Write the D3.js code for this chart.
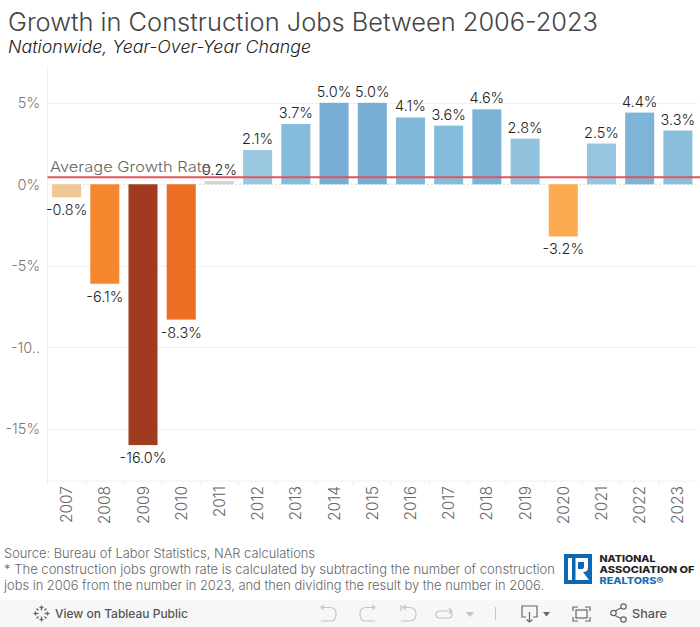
<!DOCTYPE html>
<html><head><meta charset="utf-8">
<script src="https://cdn.jsdelivr.net/npm/d3@7/dist/d3.min.js"></script>
<style>html,body{margin:0;padding:0;background:#fff;overflow:hidden}svg{display:block}text{font-family:"Inter","DejaVu Sans",sans-serif;font-weight:300}</style>
</head><body><svg id="c" width="700" height="627"></svg>
<script>
const years=["2007","2008","2009","2010","2011","2012","2013","2014","2015","2016","2017","2018","2019","2020","2021","2022","2023"];
const growth=[-0.8,-6.1,-16.0,-8.3,0.2,2.1,3.7,5.0,5.0,4.1,3.6,4.6,2.8,-3.2,2.5,4.4,3.3];
const yTickValues=[5,0,-5,-10,-15];
const yTickLabels=["5%","0%","-5%","-10..","-15%"];
const averageGrowth=0.43;
const titleText="Growth in Construction Jobs Between 2006-2023";
const subtitleText="Nationwide, Year-Over-Year Change";
const avgLabel="Average Growth Rate";
const notes=["Source: Bureau of Labor Statistics, NAR calculations",
"* The construction jobs growth rate is calculated by subtracting the number of construction",
"jobs in 2006 from the number in 2023, and then dividing the result by the number in 2006."];

const svg=d3.select("#c");
const L=47.5,R=697,T=66,B=481;
const x=d3.scaleBand().domain(years).range([L,R]).paddingInner(0.24).paddingOuter(0.12);
const step=x.step();
const y=d3.scaleLinear().domain([0,-15]).range([184.3,428.8]);
const color=d3.scaleLinear().domain([-16,-8.3,-6.1,-3.2,-0.8,0.2,2.1,3.7,5])
 .range(["#a03b20","#ec6e22","#f5882e","#fdab50","#f0c896","#d6d6cc","#9ac8e1","#85bbdb","#78aed3"]);

function fit(sel,w){sel.attr("textLength",w).attr("lengthAdjust","spacingAndGlyphs");return sel}

fit(svg.append("text").attr("x",8).attr("y",31).attr("font-size",25).attr("fill","#444").text(titleText),590);
fit(svg.append("text").attr("x",8).attr("y",53).attr("font-size",17).attr("font-style","italic").attr("fill","#222").text(subtitleText),303);

// grid
const gridG=svg.append("g");
gridG.selectAll("line").data(yTickValues.filter(d=>d!==0)).join("line")
 .attr("x1",L).attr("x2",697).attr("y1",d=>Math.round(y(d))+.5).attr("y2",d=>Math.round(y(d))+.5)
 .attr("stroke","#f0f0f0");
svg.append("line").attr("x1",L).attr("x2",L).attr("y1",T).attr("y2",B).attr("stroke","#f0f0f0");
svg.append("line").attr("x1",L).attr("x2",697).attr("y1",B).attr("y2",B).attr("stroke","#f0f0f0");
// zero dotted
svg.append("line").attr("x1",L).attr("x2",697).attr("y1",y(0)).attr("y2",y(0))
 .attr("stroke","#b5b5b5").attr("stroke-dasharray","1 3");
// y labels
svg.append("g").selectAll("text").data(yTickValues).join("text")
 .attr("x",40).attr("y",d=>y(d)+5.5).attr("text-anchor","end").attr("font-size",14.5).attr("fill","#777")
 .text((d,i)=>yTickLabels[i]);
// x ticks
svg.append("g").selectAll("line").data(years).join("line")
 .attr("x1",d=>x(d)-(step-x.bandwidth())/2).attr("x2",d=>x(d)-(step-x.bandwidth())/2)
 .attr("y1",B).attr("y2",B+4).attr("stroke","#eee");
svg.append("g").selectAll("text").data(years).join("text")
 .attr("transform",d=>`translate(${x(d)+x.bandwidth()/2+5.5},${B+5}) rotate(-90)`)
 .attr("text-anchor","end").attr("font-size",15.5).attr("fill","#666").text(d=>d);
// bars
svg.append("g").selectAll("rect").data(growth).join("rect")
 .attr("x",(d,i)=>x(years[i])).attr("width",x.bandwidth())
 .attr("y",d=>d>=0?y(d):y(0)).attr("height",d=>Math.abs(y(d)-y(0)))
 .attr("fill",d=>color(d));
// labels
svg.append("g").selectAll("text").data(growth).join("text")
 .attr("x",(d,i)=>x(years[i])+x.bandwidth()/2)
 .attr("y",d=>d>=0?y(d)-6:y(d)+18)
 .attr("text-anchor","middle").attr("font-size",14.5).attr("fill","#222")
 .text(d=>d.toFixed(1)+"%");
// average
fit(svg.append("text").attr("x",50).attr("y",172).attr("font-size",14.5).attr("fill","#666").text(avgLabel),161);
svg.append("line").attr("x1",L).attr("x2",700).attr("y1",y(averageGrowth)).attr("y2",y(averageGrowth))
 .attr("stroke","#e0545c").attr("stroke-width",2);
// notes
const noteW=[311,551,540];
svg.append("g").selectAll("text").data(notes).join("text")
 .attr("x",4).attr("y",(d,i)=>558+i*16).attr("font-size",13).attr("fill","#666").text(d=>d)
 .each(function(d,i){fit(d3.select(this),noteW[i])});
// logo
const lg=svg.append("g").attr("transform","translate(564,554)");
lg.append("rect").attr("width",28).attr("height",30).attr("fill","#0d68b1");
lg.append("path").attr("fill","#fff").attr("d","M4 4H24V14Q24 18 19 18L25 26H4Z");
lg.append("rect").attr("x",8).attr("y",4).attr("width",3.5).attr("height",22).attr("fill","#0d68b1");
lg.append("path").attr("fill","#0d68b1").attr("d","M14 8H20V13Q20 15 17 15H14Z");
[["NATIONAL","#222",8,56],["ASSOCIATION OF","#222",19,95],["REALTORS®","#1a6cb0",30,64]].forEach(r=>{
 fit(lg.append("text").attr("x",35.5).attr("y",r[2]).attr("font-size",9).style("font-weight",800).attr("fill",r[1]).text(r[0]),r[3]);
});
// toolbar
const tb=svg.append("g");
tb.append("rect").attr("x",0).attr("y",600).attr("width",700).attr("height",27).attr("fill","#f7f7f7");
const tIcon="#666",tLight="#c4c4c4";
const star=tb.append("g").attr("transform","translate(41.5,613.5)").attr("stroke",tIcon).attr("stroke-width",1.3);
[[0,-8,0,-3],[0,3,0,8],[-8,0,-3,0],[3,0,8,0],[-5,-5,-3,-3],[3,3,5,5],[-5,5,-3,3],[3,-3,5,-5],[-2,-6,2,-6],[-2,6,2,6],[-6,-2,-6,2],[6,-2,6,2]].forEach(s=>{
 star.append("line").attr("x1",s[0]).attr("y1",s[1]).attr("x2",s[2]).attr("y2",s[3]);});
fit(tb.append("text").attr("x",55).attr("y",618).attr("font-size",12).style("font-weight",500).attr("fill","#555").text("View on Tableau Public"),133);
const ic=(d,c,w)=>tb.append("path").attr("d",d).attr("fill","none").attr("stroke",c).attr("stroke-width",w||1.2);
ic("M321 607.5L324 605M321 607.5L324 610M321 607.5H331Q336 608 336 614Q336 621 331 621H321",tLight);
ic("M375 607.5L372 605M375 607.5L372 610M375 607.5H365Q360 608 360 614Q360 621 365 621H375",tLight);
ic("M401 605V611M406 605L403 607.5L406 610M403 607.5H410Q416 608 416 614Q416 621 410 621H401",tLight);
ic("M449 608L452 611L449 614M452 611H440Q436 611 436 614.5Q436 618 440 618H448Q452 618 452 614.5V612",tLight);
tb.append("path").attr("d","M466 612H474L470 617Z").attr("fill",tLight);
tb.append("line").attr("x1",495.5).attr("x2",495.5).attr("y1",607).attr("y2",620).attr("stroke","#c8c8c8");
ic("M526 617H522V606H537V617H533M529.5 612V621.5M526.5 619.5L529.5 622L532.5 619.5",tIcon);
tb.append("path").attr("d","M543 612H550L546.5 616.5Z").attr("fill",tIcon);
ic("M573 611V607H578M585 607H590V611M590 617V621H585M578 621H573V617",tIcon);
tb.append("rect").attr("x",576).attr("y",610).attr("width",11).attr("height",8).attr("fill","none").attr("stroke",tIcon).attr("stroke-width",1.2);
ic("M615 611L622 607.5M615 615.5L622 619",tIcon);
[[613.5,613],[623.5,606.5],[623.5,619.5]].forEach(p=>tb.append("circle").attr("cx",p[0]).attr("cy",p[1]).attr("r",2.7).attr("fill","#f7f7f7").attr("stroke",tIcon).attr("stroke-width",1.2));
fit(tb.append("text").attr("x",632).attr("y",618).attr("font-size",12).style("font-weight",500).attr("fill","#555").text("Share"),35);
</script></body></html>
